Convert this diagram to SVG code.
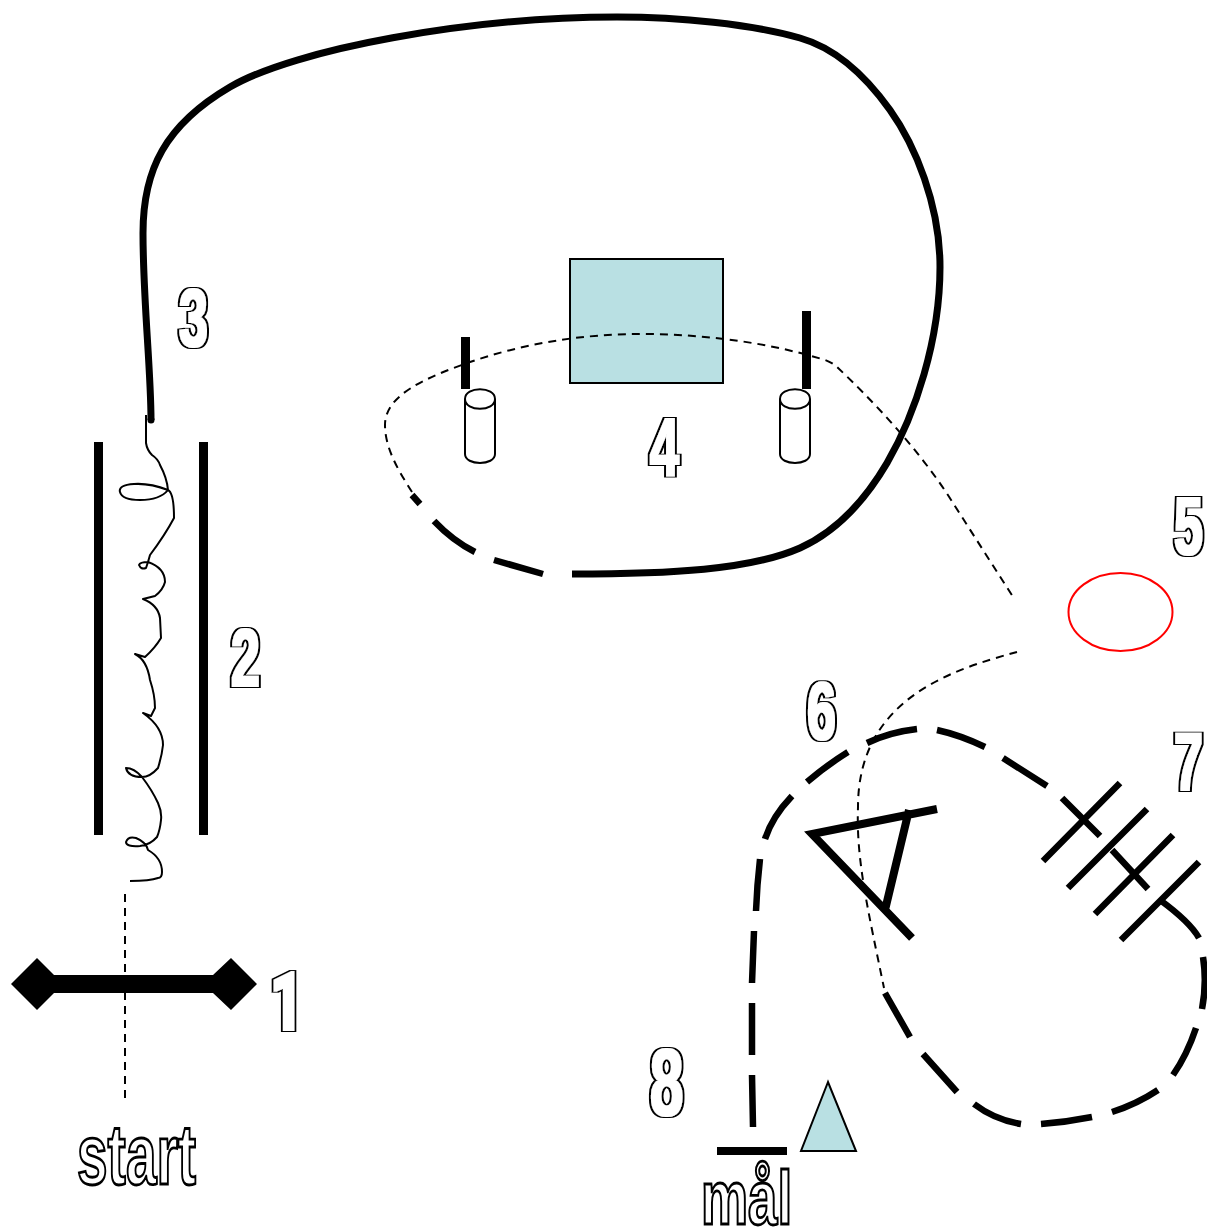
<svg xmlns="http://www.w3.org/2000/svg" width="1207" height="1228" viewBox="0 0 1207 1228">
<defs>
<filter id="ol" x="-25%" y="-25%" width="150%" height="150%">
<feMorphology in="SourceAlpha" operator="dilate" radius="3 1.3" result="o"/>
<feMorphology in="SourceAlpha" operator="dilate" radius="1 0.65" result="i"/>
<feFlood flood-color="#fff"/>
<feComposite in2="i" operator="in" result="w"/>
<feMerge><feMergeNode in="o"/><feMergeNode in="w"/></feMerge>
</filter>
</defs>
<style>
.num{font-family:"Liberation Sans",Arial,sans-serif;font-weight:700;fill:#000;filter:url(#ol)}
.one{font-family:Roboto,"Liberation Sans",sans-serif;font-weight:900}
.lbl{font-family:"Liberation Sans",Arial,sans-serif;font-weight:700;fill:#fff;stroke:#000;stroke-width:2.4;vector-effect:non-scaling-stroke}
.thick{fill:none;stroke:#000;stroke-width:7}
.mid{fill:none;stroke:#000;stroke-width:6.5}
.thin{fill:none;stroke:#000;stroke-width:2}
.dash{fill:none;stroke:#000;stroke-width:2;stroke-dasharray:8 6}
.bar{fill:#000}
.cyl{fill:#fff;stroke:#000;stroke-width:2}
.blue{fill:#b9e0e3;stroke:#000;stroke-width:2}
</style>
<rect width="1207" height="1228" fill="#fff"/>
<g id="obstacle-1">
<path class="bar" d="M11 984L37 958L54 975H213L231 958L257 984L231 1010L213 993H54L37 1010Z"/>
<text class="num one" font-size="52" transform="translate(270 1030) scale(1.1 1.58)">1</text>
</g>
<g id="obstacle-2">
<rect class="bar" x="94" y="442" width="9" height="393"/>
<rect class="bar" x="199" y="442" width="9" height="393"/>
<text class="num" font-size="52" transform="translate(231 686) scale(1 1.58)">2</text>
</g>
<g id="obstacle-3"><text class="num" font-size="52" transform="translate(179 346) scale(1 1.58)">3</text></g>
<g id="obstacle-4">
<rect class="blue" x="570" y="259" width="153" height="124"/>
<rect class="bar" x="461" y="337" width="9" height="52"/>
<rect class="bar" x="802" y="311" width="9" height="78"/>
<path class="cyl" d="M465 399V454C465 466 495 466 495 454V399C495 386 465 386 465 399C465 412 495 412 495 399"/>
<path class="cyl" d="M780 399V454C780 466 810 466 810 454V399C810 386 780 386 780 399C780 412 810 412 810 399"/>
<text class="num" font-size="52" transform="translate(650 475) scale(1 1.58)">4</text>
</g>
<g id="obstacle-5">
<ellipse cx="1120.500" cy="612" rx="52" ry="39" fill="#fff" stroke="#f00" stroke-width="2"/>
<text class="num" font-size="52" transform="translate(1174 554) scale(1 1.58)">5</text>
</g>
<g id="obstacle-6">
<path d="M937 809L812 834L912 938M909 810L885 910" fill="none" stroke="#000" stroke-width="8"/>
<text class="num" font-size="52" transform="translate(807 739) scale(1 1.58)">6</text>
</g>
<g id="obstacle-7">
<path class="mid" d="M1120 783L1043 861M1147 809L1068 888M1173 835L1095 914M1199 862L1121 940"/>
<text class="num" font-size="52" transform="translate(1174 790) scale(1 1.58)">7</text>
</g>
<g id="obstacle-8">
<path class="blue" d="M828 1082L801 1151H856Z" stroke-width="1.5"/>
<path d="M717 1151H787" stroke="#000" stroke-width="8" fill="none"/>
<text class="num" font-size="60" transform="translate(650 1115) scale(1 1.58)">8</text>
</g>
<g id="start"><text class="lbl" font-size="55" transform="translate(77 1184) scale(1 1.55)">start</text></g>
<g id="goal"><text class="lbl" font-size="53" transform="translate(701 1224) scale(1 1.42)">mål</text></g>
<g id="connectors">
<path class="dash" stroke-dasharray="8 7" d="M125 1098V890"/>
<path class="thin" stroke-linejoin="round" d="M146 415L146 443Q147 450 152 455Q158 459 160 465Q167 478 168 490Q150 483 134 484Q118 485 120 492Q122 500 140 500Q160 500 168 490Q174 493 174 518Q165 535 150 555L148 562Q140 562 139 565Q141 570 146 568L148 562Q165 568 165 582Q163 590 155 596L143 599Q158 605 160 618L161 638Q155 648 145 657L135 654Q147 660 150 680Q155 695 155 708L151 716L143 713Q163 727 163 745Q162 755 158 768Q150 777 142 777Q128 777 126 768Q134 768 142 777Q152 790 158 803Q162 812 161 820Q160 830 157 837Q150 845 140 846Q126 847 126 842Q128 836 136 838Q146 842 148 850Q162 858 162 872Q162 878 158 878Q150 881 130 881"/>
<circle cx="151" cy="420" r="3.500" fill="#000"/>
<path class="thick" d="M151 420C151 370 143 300 143 233C143 170 165 125 230 87C295 49 470 17 617 17C680 17 750 24 800 38C835 48 865 75 890 110C915 145 940 205 940 267C940 340 915 415 887 463C867 497 840 530 800 548C750 570 670 574 572 574"/>
<path class="mid" d="M543 574L494 560M475 552Q453 541 434 521M420 504L412 495"/>
<path class="dash" d="M412 492C398 470 385 448 385 425C385 395 425 378 470 362C520 345 580 333 650 334C710 335 770 343 825 360Q833 363 837 367C870 398 920 450 953 503L1015 600"/>
<path class="dash" d="M1017 652C950 670 858 700 858 807C856 860 868 910 884 988"/>
<path class="mid" d="M1003 758L1047 786M985 747Q960 735 937 730M917 729Q890 732 867 743M848 752Q827 765 807 782M792 796Q772 817 765 839M760 859Q757 885 756 911M754 931Q753 958 752 983M752 1003V1055M752 1075L753 1127M885 993L910 1037M923 1054L957 1092M974 1104Q995 1120 1021 1124M1041 1124Q1067 1122 1092 1117M1112 1112Q1137 1104 1158 1090M1173 1075Q1187 1055 1196 1028M1202 1009Q1207 983 1203 957M1199 938Q1190 922 1160 900M1112 850L1148 889M1062 798L1100 836"/>
</g>
</svg>
